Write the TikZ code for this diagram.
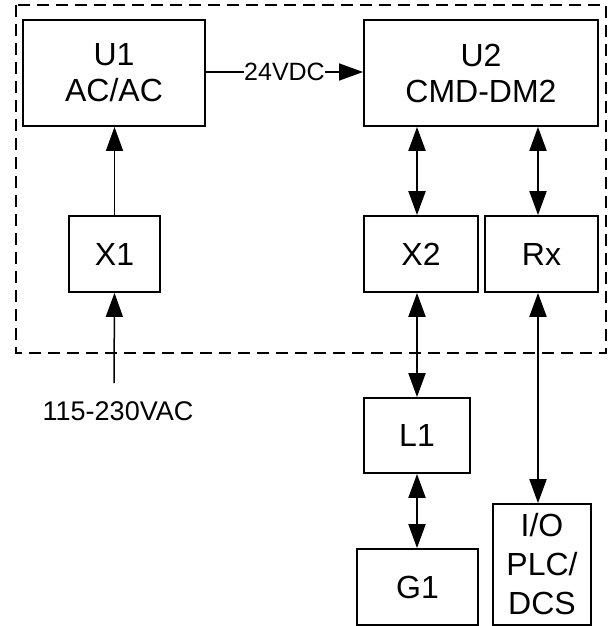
\documentclass[tikz,border=0pt]{standalone}
\usepackage{fontspec}
\setmainfont{Liberation Sans}
\usetikzlibrary{arrows.meta}

\begin{document}
\begin{tikzpicture}[x=1pt,y=-1pt,line width=1.5pt,
  box/.style={draw,line width=1.8pt,align=center,inner sep=0pt,font=\fontsize{32}{36}\selectfont},
  link/.style={-{Triangle[length=24pt,width=17pt]}},
  both/.style={line width=2pt,{Triangle[length=24pt,width=17pt]}-{Triangle[length=24pt,width=17pt]}}]
  \useasboundingbox (0,0) rectangle (608,626);
  \draw[line width=1.8pt,dash pattern=on 12pt off 7pt] (16,5) rectangle (606,353);
  \node[box,minimum width=182pt,minimum height=106pt] (U1) at (114,73) {U1\\AC/AC};
  \node[box,minimum width=234pt,minimum height=106pt] (U2) at (481,73) {U2\\CMD-DM2};
  \node[box,minimum width=91pt,minimum height=76pt] (X1) at (114.5,254) {X1};
  \node[box,minimum width=114pt,minimum height=76pt] (X2) at (421,254) {X2};
  \node[box,minimum width=113pt,minimum height=76pt] (Rx) at (541.5,254) {Rx};
  \node[box,minimum width=106pt,minimum height=75pt] (L1) at (417,435.5) {L1};
  \node[box,minimum width=121pt,minimum height=76pt] (G1) at (417.5,587) {G1};
  \node[box,minimum width=98pt,minimum height=121pt,font=\fontsize{32}{39}\selectfont] (IO) at (542,564.5) {I/O\\PLC/\\DCS};
  \coordinate (mains) at (114,383);
  \node[font=\fontsize{27}{30}\selectfont] (mainslbl) at (118,411) {115-230VAC};
  % power path
  \draw[link] (mains) -- (X1.south);
  \draw[link] (X1.north) -- (X1.north |- U1.south);
  \draw[link] ([yshift=1pt]U1.east) -- ([yshift=1pt]U2.west)
    node[midway,fill=white,inner sep=0.5pt,font=\fontsize{25}{28}\selectfont] {24VDC};
  % signal paths
  \draw[both] (U2.south -| L1.north) -- (X2.north -| L1.north);
  \draw[both] (X2.south -| L1.north) -- (L1.north);
  \draw[both] (L1.south) -- (G1.north -| L1.south);
  \draw[both] ([xshift=-3.5pt]Rx.north |- U2.south) -- ([xshift=-3.5pt]Rx.north);
  \draw[both] ([xshift=-3.5pt]Rx.south) -- ([xshift=-3.5pt]Rx.south |- IO.north);
\end{tikzpicture}
\end{document}
